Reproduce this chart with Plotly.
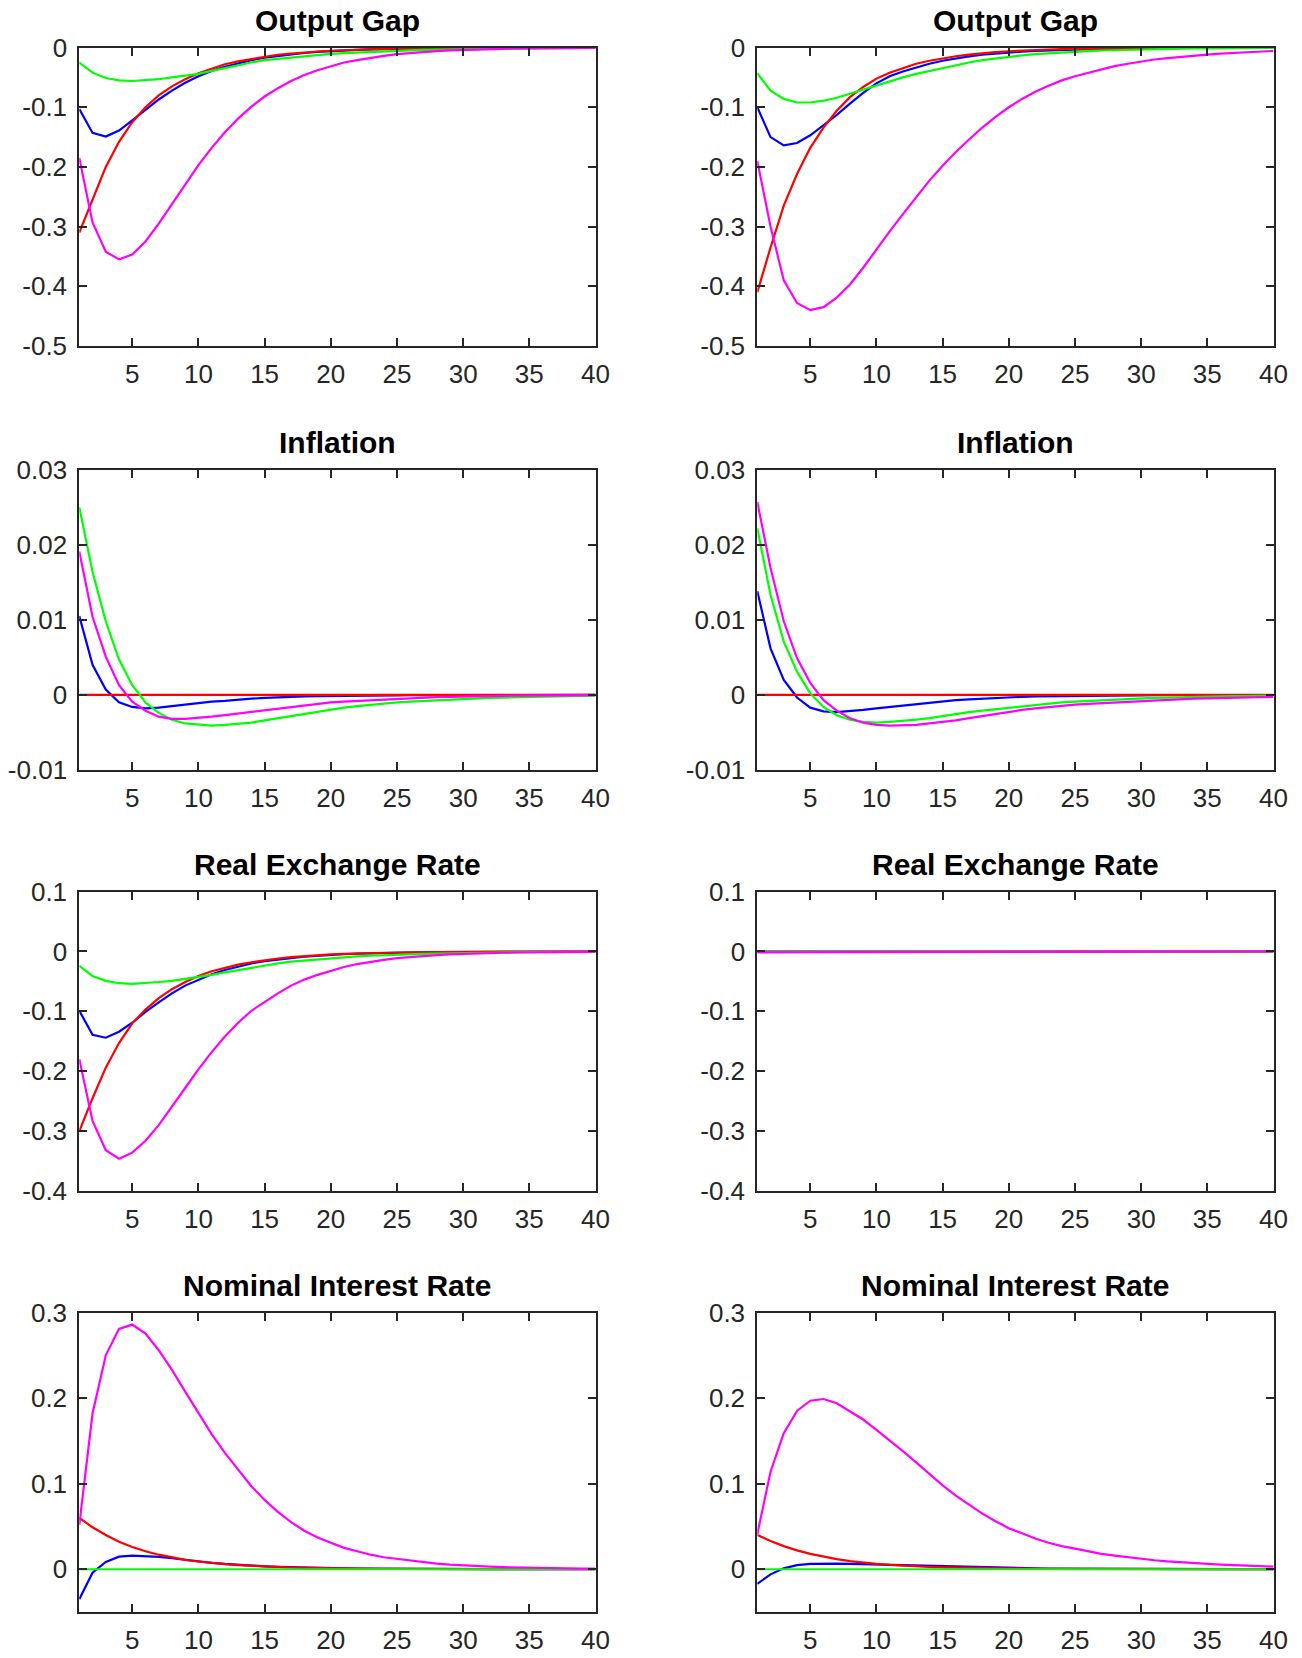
import plotly.graph_objects as go

periods = list(range(1, 41))

# ---------------- Output Gap (left) ----------------
og_l_red = [-0.310, -0.255, -0.200, -0.158, -0.125, -0.100, -0.080, -0.065, -0.053, -0.043,
            -0.035, -0.028, -0.023, -0.019, -0.015, -0.012, -0.010, -0.008, -0.0065, -0.0053,
            -0.0043, -0.0035, -0.0028, -0.0023, -0.0018, -0.0015, -0.0012, -0.0010, -0.0008, -0.0006,
            -0.0005, -0.0004, -0.0003, -0.0003, -0.0002, -0.0002, -0.0001, -0.0001, -0.0001, -0.0001]
og_l_blue = [-0.103, -0.143, -0.149, -0.139, -0.122, -0.104, -0.087, -0.072, -0.059, -0.048,
             -0.039, -0.032, -0.026, -0.021, -0.017, -0.014, -0.011, -0.009, -0.0072, -0.0058,
             -0.0047, -0.0038, -0.0030, -0.0024, -0.0020, -0.0016, -0.0013, -0.0010, -0.0008, -0.0007,
             -0.0005, -0.0004, -0.0003, -0.0003, -0.0002, -0.0002, -0.0001, -0.0001, -0.0001, -0.0001]
og_l_green = [-0.025, -0.042, -0.051, -0.055, -0.056, -0.055, -0.053, -0.050, -0.047, -0.044,
              -0.039, -0.034, -0.030, -0.025, -0.021, -0.019, -0.016, -0.014, -0.012, -0.0106,
              -0.0093, -0.0081, -0.0070, -0.0060, -0.0052, -0.0045, -0.0038, -0.0033, -0.0028, -0.0024,
              -0.0020, -0.0017, -0.0014, -0.0012, -0.0010, -0.0009, -0.0007, -0.0006, -0.0005, -0.0004]
og_l_mag = [-0.185, -0.293, -0.342, -0.355, -0.347, -0.325, -0.295, -0.262, -0.229, -0.197,
            -0.168, -0.142, -0.119, -0.099, -0.082, -0.068, -0.056, -0.046, -0.038, -0.031,
            -0.025, -0.021, -0.017, -0.014, -0.011, -0.009, -0.0073, -0.0060, -0.0048, -0.0039,
            -0.0032, -0.0026, -0.0021, -0.0017, -0.0014, -0.0011, -0.0009, -0.0007, -0.0006, -0.0005]

# ---------------- Output Gap (right) ----------------
og_r_red = [-0.410, -0.335, -0.265, -0.212, -0.168, -0.134, -0.106, -0.083, -0.066, -0.052,
            -0.042, -0.034, -0.027, -0.022, -0.018, -0.0145, -0.0117, -0.0094, -0.0076, -0.0061,
            -0.0049, -0.0040, -0.0032, -0.0026, -0.0021, -0.0017, -0.0013, -0.0011, -0.0009, -0.0007,
            -0.0006, -0.0005, -0.0004, -0.0003, -0.0002, -0.0002, -0.0002, -0.0001, -0.0001, -0.0001]
og_r_blue = [-0.100, -0.150, -0.164, -0.160, -0.147, -0.130, -0.113, -0.094, -0.076, -0.060,
             -0.048, -0.040, -0.033, -0.027, -0.022, -0.018, -0.0148, -0.012, -0.0099, -0.0081,
             -0.0066, -0.0054, -0.0044, -0.0036, -0.0030, -0.0024, -0.0020, -0.0016, -0.0013, -0.0011,
             -0.0009, -0.0007, -0.0006, -0.0005, -0.0004, -0.0003, -0.0003, -0.0002, -0.0002, -0.0002]
og_r_green = [-0.043, -0.072, -0.086, -0.092, -0.092, -0.089, -0.084, -0.077, -0.070, -0.063,
              -0.057, -0.050, -0.044, -0.039, -0.034, -0.029, -0.025, -0.021, -0.018, -0.015,
              -0.013, -0.011, -0.0095, -0.0080, -0.0068, -0.0058, -0.0049, -0.0042, -0.0035, -0.0030,
              -0.0025, -0.0021, -0.0018, -0.0015, -0.0013, -0.0011, -0.0009, -0.0008, -0.0007, -0.0006]
og_r_mag = [-0.190, -0.300, -0.390, -0.428, -0.440, -0.435, -0.419, -0.397, -0.369, -0.338,
            -0.308, -0.279, -0.250, -0.223, -0.198, -0.175, -0.154, -0.134, -0.116, -0.100,
            -0.086, -0.074, -0.064, -0.055, -0.048, -0.042, -0.036, -0.031, -0.027, -0.023,
            -0.020, -0.0175, -0.0153, -0.0134, -0.0117, -0.0102, -0.0089, -0.0077, -0.0066, -0.0056]

# ---------------- Inflation (left) ----------------
inf_l_red = [0.0] * 40
inf_l_blue = [0.0105, 0.0040, 0.0007, -0.0010, -0.0016, -0.0018, -0.0017, -0.0015, -0.0013, -0.0011,
              -0.0009, -0.0008, -0.0006, -0.0005, -0.0004, -0.0003, -0.00025, -0.0002, -0.00015, -0.00012,
              -0.0001, -0.00008, -0.00007, -0.00006, -0.00005, -0.00004, -0.00003, -0.00003, -0.00002, -0.00002,
              -0.00002, -0.00001, -0.00001, -0.00001, -0.00001, -0.00001, 0.0, 0.0, 0.0, 0.0]
inf_l_green = [0.0250, 0.0164, 0.0098, 0.0047, 0.0013, -0.0010, -0.0024, -0.0033, -0.0038, -0.0040,
               -0.0041, -0.0040, -0.0039, -0.0037, -0.0034, -0.0031, -0.0028, -0.0025, -0.0022, -0.0019,
               -0.0017, -0.0015, -0.0013, -0.0011, -0.0010, -0.0009, -0.0008, -0.0007, -0.0006, -0.0005,
               -0.00045, -0.0004, -0.00035, -0.0003, -0.00025, -0.0002, -0.00018, -0.00015, -0.00013, -0.0001]
inf_l_mag = [0.0191, 0.0104, 0.0051, 0.0013, -0.0009, -0.0021, -0.0029, -0.0032, -0.0032, -0.0031,
             -0.0029, -0.0027, -0.0025, -0.0022, -0.0020, -0.0018, -0.0016, -0.0014, -0.0012, -0.0010,
             -0.0009, -0.0008, -0.0007, -0.0006, -0.0005, -0.0004, -0.00035, -0.0003, -0.00025, -0.0002,
             -0.00017, -0.00014, -0.00012, -0.0001, -0.00008, -0.00007, -0.00006, -0.00005, -0.00004, -0.00003]

# ---------------- Inflation (right) ----------------
inf_r_red = [0.0] * 40
inf_r_blue = [0.0138, 0.0062, 0.0020, -0.00035, -0.0017, -0.0022, -0.0023, -0.0022, -0.0020, -0.0018,
              -0.0016, -0.0014, -0.0012, -0.0010, -0.0009, -0.0007, -0.0006, -0.0005, -0.0004, -0.0003,
              -0.00025, -0.0002, -0.00017, -0.00014, -0.00012, -0.0001, -0.00008, -0.00007, -0.00006, -0.00005,
              -0.00004, -0.00003, -0.00003, -0.00002, -0.00002, -0.00002, -0.00001, -0.00001, -0.00001, -0.00001]
inf_r_green = [0.0222, 0.0133, 0.0071, 0.0031, 0.0002, -0.0016, -0.0027, -0.0033, -0.0036, -0.0037,
               -0.0036, -0.0035, -0.0033, -0.0031, -0.0028, -0.0026, -0.0023, -0.0021, -0.0019, -0.0017,
               -0.0015, -0.0013, -0.0012, -0.0010, -0.0009, -0.0008, -0.0007, -0.0006, -0.0005, -0.00045,
               -0.0004, -0.00035, -0.0003, -0.00027, -0.00023, -0.0002, -0.00017, -0.00015, -0.00012, -0.0001]
inf_r_mag = [0.0257, 0.0169, 0.0098, 0.0049, 0.0016, -0.0007, -0.0021, -0.0031, -0.0037, -0.0040,
             -0.0041, -0.0041, -0.0040, -0.0038, -0.0036, -0.0034, -0.0031, -0.0028, -0.0025, -0.0022,
             -0.0020, -0.0018, -0.0016, -0.0014, -0.0013, -0.0012, -0.0011, -0.0010, -0.0009, -0.0008,
             -0.0007, -0.0006, -0.00055, -0.0005, -0.00045, -0.0004, -0.00035, -0.0003, -0.00027, -0.00025]

# ---------------- Real Exchange Rate (left) ----------------
rer_l_red = [-0.300, -0.245, -0.194, -0.153, -0.120, -0.097, -0.078, -0.063, -0.051, -0.041,
             -0.033, -0.027, -0.022, -0.018, -0.0145, -0.0117, -0.0095, -0.0077, -0.0062, -0.0050,
             -0.0041, -0.0033, -0.0027, -0.0022, -0.0017, -0.0014, -0.0011, -0.0009, -0.0007, -0.0006,
             -0.0005, -0.0004, -0.0003, -0.0003, -0.0002, -0.0002, -0.0001, -0.0001, -0.0001, -0.0001]
rer_l_blue = [-0.099, -0.139, -0.144, -0.134, -0.119, -0.101, -0.085, -0.070, -0.057, -0.047,
              -0.038, -0.031, -0.025, -0.020, -0.016, -0.013, -0.011, -0.0088, -0.0070, -0.0057,
              -0.0046, -0.0037, -0.0030, -0.0024, -0.0019, -0.0016, -0.0013, -0.0010, -0.0008, -0.0007,
              -0.0005, -0.0004, -0.0003, -0.0003, -0.0002, -0.0002, -0.0001, -0.0001, -0.0001, -0.0001]
rer_l_green = [-0.024, -0.041, -0.049, -0.053, -0.054, -0.053, -0.051, -0.049, -0.046, -0.043,
               -0.039, -0.035, -0.031, -0.027, -0.023, -0.020, -0.017, -0.015, -0.013, -0.011,
               -0.0095, -0.0082, -0.0071, -0.0061, -0.0053, -0.0046, -0.0039, -0.0034, -0.0029, -0.0025,
               -0.0021, -0.0018, -0.0016, -0.0013, -0.0011, -0.0010, -0.0008, -0.0007, -0.0006, -0.0005]
rer_l_mag = [-0.180, -0.283, -0.332, -0.346, -0.336, -0.316, -0.290, -0.260, -0.228, -0.197,
             -0.168, -0.142, -0.119, -0.099, -0.084, -0.070, -0.057, -0.047, -0.039, -0.032,
             -0.026, -0.021, -0.017, -0.014, -0.011, -0.009, -0.0073, -0.0060, -0.0048, -0.0039,
             -0.0032, -0.0026, -0.0021, -0.0017, -0.0014, -0.0011, -0.0009, -0.0007, -0.0006, -0.0005]

# ---------------- Real Exchange Rate (right) ----------------
rer_r_red = [0.0] * 40
rer_r_blue = [0.0] * 40
rer_r_green = [0.0] * 40
rer_r_mag = [-0.0015, -0.0016, -0.0016, -0.0015, -0.0014, -0.0013, -0.0012, -0.0011, -0.0010, -0.0009,
             -0.0008, -0.0007, -0.0006, -0.0005, -0.0005, -0.0004, -0.0004, -0.0003, -0.0003, -0.0003,
             -0.0002, -0.0002, -0.0002, -0.0002, -0.0001, -0.0001, -0.0001, -0.0001, -0.0001, -0.0001,
             -0.0001, -0.0001, 0.0, 0.0, 0.0, 0.0, 0.0, 0.0, 0.0, 0.0]

# ---------------- Nominal Interest Rate (left) ----------------
nir_l_red = [0.060, 0.049, 0.040, 0.032, 0.026, 0.021, 0.017, 0.014, 0.011, 0.0090,
             0.0073, 0.0059, 0.0048, 0.0039, 0.0031, 0.0025, 0.0020, 0.0016, 0.0013, 0.0011,
             0.0009, 0.0007, 0.0006, 0.0005, 0.0004, 0.0003, 0.00025, 0.0002, 0.00016, 0.00013,
             0.0001, 0.00008, 0.00007, 0.00005, 0.00004, 0.00003, 0.00003, 0.00002, 0.00002, 0.00001]
nir_l_blue = [-0.035, -0.004, 0.0085, 0.0147, 0.0160, 0.0155, 0.0144, 0.0128, 0.0109, 0.0091,
              0.0075, 0.0062, 0.0051, 0.0042, 0.0034, 0.0028, 0.0023, 0.0018, 0.0015, 0.0012,
              0.0010, 0.0008, 0.00065, 0.0005, 0.0004, 0.00035, 0.0003, 0.00025, 0.0002, 0.00015,
              0.00012, 0.0001, 0.00008, 0.00007, 0.00005, 0.00004, 0.00003, 0.00003, 0.00002, 0.00002]
nir_l_green = [0.0] * 40
nir_l_mag = [0.052, 0.182, 0.250, 0.281, 0.286, 0.2755, 0.256, 0.233, 0.2076, 0.182,
             0.158, 0.136, 0.116, 0.097, 0.081, 0.067, 0.055, 0.045, 0.037, 0.031,
             0.025, 0.021, 0.017, 0.014, 0.012, 0.0098, 0.0080, 0.0066, 0.0054, 0.0044,
             0.0036, 0.0030, 0.0024, 0.0020, 0.0016, 0.0013, 0.0011, 0.0009, 0.0007, 0.0006]

# ---------------- Nominal Interest Rate (right) ----------------
nir_r_red = [0.040, 0.033, 0.027, 0.022, 0.018, 0.0145, 0.0118, 0.0095, 0.0077, 0.0062,
             0.0050, 0.0040, 0.0032, 0.0026, 0.0021, 0.0017, 0.0014, 0.0011, 0.0009, 0.0007,
             0.0006, 0.0005, 0.0004, 0.0003, 0.00025, 0.0002, 0.00016, 0.00013, 0.0001, 0.00008,
             0.00007, 0.00005, 0.00004, 0.00003, 0.00003, 0.00002, 0.00002, 0.00001, 0.00001, 0.00001]
nir_r_blue = [-0.017, -0.006, 0.0010, 0.0047, 0.0062, 0.0066, 0.0066, 0.0063, 0.0059, 0.0054,
              0.0049, 0.0044, 0.0039, 0.0034, 0.0030, 0.0026, 0.0022, 0.0019, 0.0016, 0.0014,
              0.0012, 0.0010, 0.0008, 0.0007, 0.0006, 0.0005, 0.0004, 0.00035, 0.0003, 0.00025,
              0.0002, 0.00017, 0.00014, 0.00012, 0.0001, 0.00008, 0.00007, 0.00006, 0.00005, 0.00004]
nir_r_green = [0.0] * 40
nir_r_mag = [0.041, 0.114, 0.159, 0.185, 0.197, 0.199, 0.194, 0.185, 0.175, 0.163,
             0.151, 0.138, 0.125, 0.111, 0.098, 0.086, 0.075, 0.065, 0.056, 0.048,
             0.042, 0.036, 0.031, 0.027, 0.024, 0.021, 0.018, 0.016, 0.014, 0.012,
             0.0105, 0.0092, 0.0081, 0.0071, 0.0062, 0.0054, 0.0047, 0.0041, 0.0036, 0.0031]

# ---------------- Titles and ticks ----------------
titles = ["Output Gap", "Inflation", "Real Exchange Rate", "Nominal Interest Rate"]
x_tickvals = [5, 10, 15, 20, 25, 30, 35, 40]
x_ticktext = ["5", "10", "15", "20", "25", "30", "35", "40"]

og_tickvals = [0, -0.1, -0.2, -0.3, -0.4, -0.5]
og_ticktext = ["0", "-0.1", "-0.2", "-0.3", "-0.4", "-0.5"]
inf_tickvals = [0.03, 0.02, 0.01, 0, -0.01]
inf_ticktext = ["0.03", "0.02", "0.01", "0", "-0.01"]
rer_tickvals = [0.1, 0, -0.1, -0.2, -0.3, -0.4]
rer_ticktext = ["0.1", "0", "-0.1", "-0.2", "-0.3", "-0.4"]
nir_tickvals = [0.3, 0.2, 0.1, 0]
nir_ticktext = ["0.3", "0.2", "0.1", "0"]

y_ranges = [[-0.5, 0.0], [-0.01, 0.03], [-0.4, 0.1], [-0.05, 0.3]]
y_ticks = [(og_tickvals, og_ticktext), (inf_tickvals, inf_ticktext),
           (rer_tickvals, rer_ticktext), (nir_tickvals, nir_ticktext)]

panels = [
    [(og_l_red, og_l_blue, og_l_green, og_l_mag), (og_r_red, og_r_blue, og_r_green, og_r_mag)],
    [(inf_l_red, inf_l_blue, inf_l_green, inf_l_mag), (inf_r_red, inf_r_blue, inf_r_green, inf_r_mag)],
    [(rer_l_red, rer_l_blue, rer_l_green, rer_l_mag), (rer_r_red, rer_r_blue, rer_r_green, rer_r_mag)],
    [(nir_l_red, nir_l_blue, nir_l_green, nir_l_mag), (nir_r_red, nir_r_blue, nir_r_green, nir_r_mag)],
]

# ---------------- Layout geometry ----------------
W, H = 1302, 1658
col_px = [(79.3, 595.5), (757.3, 1273.5)]
row_px = [(47.6, 345.9), (469.6, 770.0), (891.6, 1191.0), (1312.6, 1612.0)]

AX = "#262626"
FONT = "Liberation Sans, Arial, Helvetica, sans-serif"
RED, BLUE, GREEN, MAG = "#ff0000", "#0000ff", "#00ff00", "#ff00ff"
TICK_SIZE = 26
TITLE_SIZE = 30

fig = go.Figure()
layout = dict(
    template="none",
    width=W, height=H,
    margin=dict(l=0, r=0, t=0, b=0, pad=0, autoexpand=False),
    paper_bgcolor="white", plot_bgcolor="white",
    showlegend=False,
    font=dict(family=FONT, size=TICK_SIZE, color=AX),
)
annotations = []

idx = 0
for r in range(4):
    for c in range(2):
        idx += 1
        xa = "x" if idx == 1 else f"x{idx}"
        ya = "y" if idx == 1 else f"y{idx}"
        red, blue, green, mag = panels[r][c]
        for series, col in ((blue, BLUE), (red, RED), (green, GREEN), (mag, MAG)):
            fig.add_trace(go.Scatter(x=periods, y=series, mode="lines",
                                     line=dict(color=col, width=2.2),
                                     xaxis=xa, yaxis=ya, hoverinfo="skip"))
        x0, x1 = col_px[c]
        y0, y1 = row_px[r]
        dom_x = [x0 / W, x1 / W]
        dom_y = [1 - y1 / H, 1 - y0 / H]
        tv, tt = y_ticks[r]
        layout["xaxis" if idx == 1 else f"xaxis{idx}"] = dict(
            domain=dom_x, range=[1, 40], anchor=ya, automargin=False,
            tickvals=x_tickvals, ticktext=x_ticktext,
            ticks="inside", ticklen=8, tickwidth=1.5, tickcolor=AX,
            showline=True, linecolor=AX, linewidth=2, mirror="ticks",
            showgrid=False, zeroline=False, ticklabelstandoff=4,
            tickfont=dict(family=FONT, size=TICK_SIZE, color=AX),
        )
        layout["yaxis" if idx == 1 else f"yaxis{idx}"] = dict(
            domain=dom_y, range=y_ranges[r], anchor=xa, automargin=False,
            tickvals=tv, ticktext=tt,
            ticks="inside", ticklen=8, tickwidth=1.5, tickcolor=AX,
            showline=True, linecolor=AX, linewidth=2, mirror="ticks",
            showgrid=False, zeroline=False, ticklabelstandoff=5,
            tickfont=dict(family=FONT, size=TICK_SIZE, color=AX),
        )
        annotations.append(dict(
            text=f"<b>{titles[r]}</b>", x=(dom_x[0] + dom_x[1]) / 2, y=dom_y[1],
            xref="paper", yref="paper", xanchor="center", yanchor="bottom",
            yshift=9, showarrow=False,
            font=dict(family=FONT, size=TITLE_SIZE, color="black"),
        ))

layout["annotations"] = annotations
fig.update_layout(**layout)
fig.write_html("out.html", config={"displayModeBar": False},
               post_script="document.body.style.margin='0px';")
